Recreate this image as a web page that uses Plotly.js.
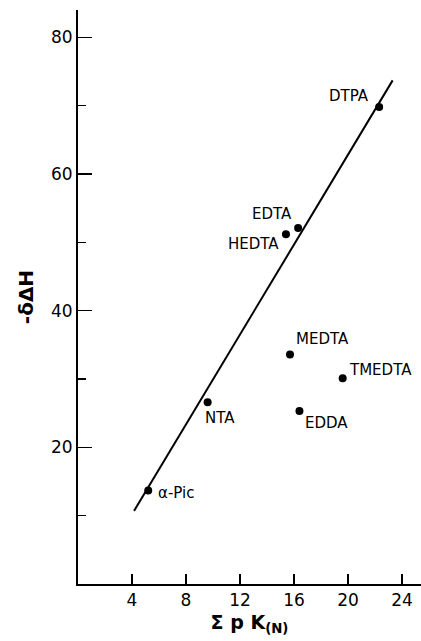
<!DOCTYPE html>
<html>
<head>
<meta charset="utf-8">
<script src="https://cdn.plot.ly/plotly-3.0.1.min.js"></script>
<style>html,body{margin:0;padding:0;background:#fff;}#chart{width:421px;height:641px;}</style>
</head>
<body>
<div id="chart"></div>
<script>
// Data
const ligands = ["α-Pic", "NTA", "HEDTA", "EDTA", "DTPA", "MEDTA", "TMEDTA", "EDDA"];
const sumPK   = [5.2, 9.6, 15.4, 16.3, 22.3, 15.7, 19.6, 16.4];
const negDH   = [13.7, 26.6, 51.2, 52.1, 69.8, 33.6, 30.1, 25.3];
// Straight line drawn through the chelating ligands
const fitX = [4.15, 23.3];
const fitY = [10.7, 73.7];
const xTicks = [4, 8, 12, 16, 20, 24];
const yTicks = [20, 40, 60, 80];
const yMinorTicks = [10, 30, 50, 70];

// label placement (style only)
const labelPos = {
  "α-Pic":  {xanchor: "left",  xshift: 8,  yshift: -3},
  "NTA":    {xanchor: "left",  xshift: -5, yshift: -16},
  "HEDTA":  {xanchor: "right", xshift: -5, yshift: -10},
  "EDTA":   {xanchor: "right", xshift: -4, yshift: 14},
  "DTPA":   {xanchor: "right", xshift: -8, yshift: 11},
  "MEDTA":  {xanchor: "left",  xshift: 4,  yshift: 15},
  "TMEDTA": {xanchor: "left",  xshift: 4,  yshift: 8},
  "EDDA":   {xanchor: "left",  xshift: 4,  yshift: -12}
};

const font = "DejaVu Sans, Liberation Sans, sans-serif";

const traces = [
  {x: fitX, y: fitY, mode: "lines", line: {color: "#000", width: 2}, hoverinfo: "skip"},
  {x: sumPK, y: negDH, mode: "markers", marker: {color: "#000", size: 8}, text: ligands}
];

const annotations = ligands.map((name, i) => Object.assign({
  x: sumPK[i], y: negDH[i], text: name, showarrow: false,
  yanchor: "middle", font: {family: font, size: 15, color: "#000"}
}, labelPos[name]));

const layout = {
  width: 421, height: 641,
  margin: {l: 78, r: 0, t: 10, b: 57},
  paper_bgcolor: "#fff", plot_bgcolor: "#fff",
  showlegend: false,
  font: {family: font, color: "#000"},
  xaxis: {
    range: [0, 25.4], showgrid: false, zeroline: false,
    showline: true, linecolor: "#000", linewidth: 2,
    tickmode: "array", tickvals: xTicks, ticktext: xTicks.map(String),
    ticks: "inside", ticklen: 10, tickwidth: 1.5, tickcolor: "#000",
    tickfont: {family: font, size: 17, color: "#000"},
    title: {text: "<b>Σ p K<sub>(N)</sub></b>", font: {family: font, size: 19, color: "#000"}, standoff: 6},
    automargin: false
  },
  yaxis: {
    range: [0, 84], showgrid: false, zeroline: false,
    showline: true, linecolor: "#000", linewidth: 2,
    tickmode: "array", tickvals: yTicks, ticktext: yTicks.map(String),
    ticks: "inside", ticklen: 14, tickwidth: 1.5, tickcolor: "#000",
    tickfont: {family: font, size: 17, color: "#000"},
    minor: {tickvals: yMinorTicks, ticks: "inside", ticklen: 8, tickwidth: 1.5, tickcolor: "#000", showgrid: false},
    title: {text: "<b>-δΔH</b>", font: {family: font, size: 20, color: "#000"}, standoff: 12},
    automargin: false
  },
  annotations: annotations
};

Plotly.newPlot("chart", traces, layout, {displayModeBar: false, staticPlot: true});
</script>
</body>
</html>
